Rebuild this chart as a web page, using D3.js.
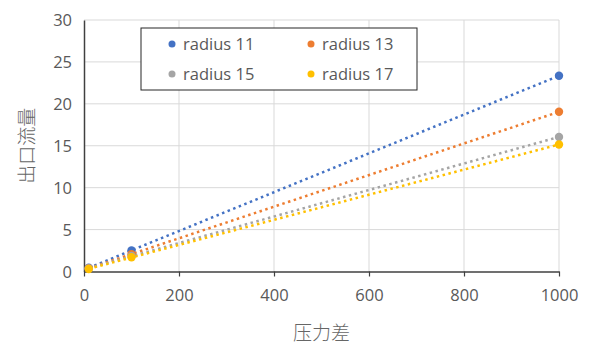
<!DOCTYPE html>
<html>
<head>
<meta charset="utf-8">
<script src="https://cdn.jsdelivr.net/npm/d3@7"></script>
<style>
  html, body { margin: 0; padding: 0; background: #fff; }
  svg { display: block; }
  text { font-family: "Open Sans", "Noto Sans", sans-serif; fill: #595959; }
</style>
</head>
<body>
<svg id="chart" width="589" height="345"></svg>
<script>
// Pressure difference (x) and outlet flow (y) for each radius
const pressure = [10, 100, 1000];
const seriesNames = ["radius 11", "radius 13", "radius 15", "radius 17"];
const flowR11 = [0.45, 2.5, 23.35];
const flowR13 = [0.4, 2.05, 19.05];
const flowR15 = [0.35, 1.85, 16.05];
const flowR17 = [0.3, 1.7, 15.15];
const colors = ["#4472C4", "#ED7D31", "#A5A5A5", "#FFC000"];
const xTicks = [0, 200, 400, 600, 800, 1000];
const yTicks = [0, 5, 10, 15, 20, 25, 30];
const xTitle = "压力差";
const yTitle = "出口流量";

const series = [flowR11, flowR13, flowR15, flowR17].map((vals, i) => ({
  name: seriesNames[i],
  color: colors[i],
  points: pressure.map((p, j) => ({ x: p, y: vals[j] }))
}));

const svg = d3.select("#chart");
const plot = { left: 84, right: 559, top: 20, bottom: 271.5 };

const x = d3.scaleLinear().domain([0, 1000]).range([plot.left, plot.right]);
const y = d3.scaleLinear().domain([0, 30]).range([plot.bottom, plot.top]);

// Gridlines
svg.append("g").selectAll("line.h").data(yTicks.filter(d => d > 0)).join("line")
  .attr("x1", plot.left).attr("x2", plot.right)
  .attr("y1", d => y(d)).attr("y2", d => y(d))
  .attr("stroke", "#d9d9d9").attr("stroke-width", 1);
svg.append("g").selectAll("line.v").data(xTicks.filter(d => d > 0)).join("line")
  .attr("x1", d => x(d)).attr("x2", d => x(d))
  .attr("y1", plot.top).attr("y2", plot.bottom)
  .attr("stroke", "#d9d9d9").attr("stroke-width", 1);

// Axes
const xAxis = svg.append("g")
  .attr("transform", `translate(0,${plot.bottom})`)
  .call(d3.axisBottom(x).tickValues(xTicks).tickFormat(d3.format("d"))
    .tickSize(5).tickPadding(13).tickSizeOuter(0));
const yAxis = svg.append("g")
  .attr("transform", `translate(${plot.left},0)`)
  .call(d3.axisLeft(y).tickValues(yTicks).tickFormat(d3.format("d"))
    .tickSize(0).tickPadding(12).tickSizeOuter(0));
[xAxis, yAxis].forEach(a => {
  a.select(".domain").attr("stroke", "#404040").attr("stroke-width", 1.5);
  a.selectAll(".tick line").attr("stroke", "#404040").attr("stroke-width", 1.2);
  a.selectAll(".tick text").attr("fill", "#595959")
    .style("font-size", "16.5px").style("font-family", "'Open Sans', 'Noto Sans', sans-serif");
});
yAxis.selectAll(".tick text").attr("dy", "0.36em");

// Linear least-squares trendlines, dotted
function fit(points) {
  const mx = d3.mean(points, d => d.x), my = d3.mean(points, d => d.y);
  const sxy = d3.sum(points, d => (d.x - mx) * (d.y - my));
  const sxx = d3.sum(points, d => (d.x - mx) ** 2);
  const m = sxy / sxx;
  return { m, b: my - m * mx };
}
const line = d3.line().x(d => x(d.x)).y(d => y(d.y));
series.forEach(s => {
  const f = fit(s.points);
  const [x0, x1] = d3.extent(s.points, d => d.x);
  svg.append("path")
    .datum([{ x: x0, y: f.m * x0 + f.b }, { x: x1, y: f.m * x1 + f.b }])
    .attr("d", line)
    .attr("fill", "none")
    .attr("stroke", s.color)
    .attr("stroke-width", 2.5)
    .attr("stroke-dasharray", "2.5,3.5");
});

// Data markers
series.forEach(s => {
  svg.append("g").selectAll("circle").data(s.points).join("circle")
    .attr("cx", d => x(d.x)).attr("cy", d => y(d.y))
    .attr("r", 4.2).attr("fill", s.color);
});

// Legend
const legend = svg.append("g");
legend.append("rect")
  .attr("x", 141).attr("y", 28).attr("width", 276).attr("height", 62)
  .attr("fill", "#fff").attr("stroke", "#262626").attr("stroke-width", 1);
series.forEach((s, i) => {
  const col = i % 2, row = Math.floor(i / 2);
  const gx = 172 + col * 139, gy = 44 + row * 30;
  legend.append("circle").attr("cx", gx).attr("cy", gy).attr("r", 3.5).attr("fill", s.color);
  legend.append("text").attr("x", gx + 11).attr("y", gy).attr("dy", "0.36em")
    .style("font-size", "16.5px").text(s.name);
});

// Axis titles
svg.append("text").attr("x", (plot.left + plot.right) / 2).attr("y", 340)
  .attr("text-anchor", "middle")
  .style("font-family", "'Noto Sans CJK SC', sans-serif").style("font-size", "19px")
  .style("font-weight", 300).style("fill", "#666666")
  .text(xTitle);
svg.append("text")
  .attr("transform", `translate(34,${(plot.top + plot.bottom) / 2}) rotate(-90)`)
  .attr("text-anchor", "middle")
  .style("font-family", "'Noto Sans CJK SC', sans-serif").style("font-size", "19px")
  .style("font-weight", 300).style("fill", "#666666")
  .text(yTitle);
</script>
</body>
</html>
